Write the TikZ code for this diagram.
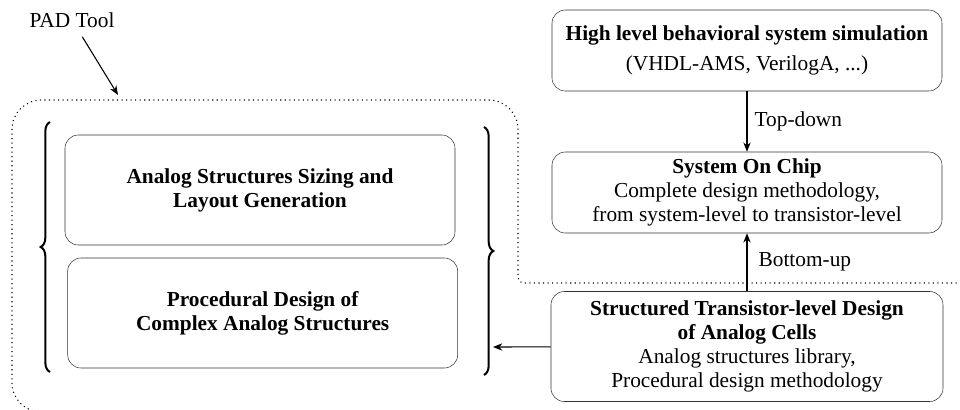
\documentclass[tikz,border=0pt]{standalone}
\usepackage{fontspec}
\setmainfont{Liberation Serif}
\usetikzlibrary{arrows, arrows.meta, decorations.pathreplacing}
\newcommand{\boxfont}{\fontsize{16}{18}\selectfont}
\tikzstyle{leftbox} = [rectangle, rounded corners=10pt, minimum width=292.5pt, minimum height=82.5pt, text centered, align=center, draw=black!80, font=\boxfont\bfseries]
\tikzstyle{flowbox} = [rectangle, rounded corners=10pt, minimum width=292.5pt, minimum height=60.75pt, text centered, align=center, draw=black!80]
\tikzstyle{arrow} = [thick,->,>={Stealth[length=7pt,width=5.5pt]}]
\tikzstyle{padline} = [line width=0.8pt, dash pattern=on 0.8pt off 2.6pt]
\tikzstyle{bigbrace} = [decorate, decoration={brace, amplitude=7pt}, line width=1.5pt]

\begin{document}
\begin{tikzpicture}[x=0.75pt, y=-0.75pt, node distance=106.5pt, every node/.style={font=\boxfont}]
\path [use as bounding box, clip] (0,0) rectangle (960,410);

% PAD tool frame
\draw [padline, rounded corners=22pt] (60,412) -- (12,412) -- (12,100) -- (518,100) [rounded corners=4pt] -- (518,283) -- (970,283);
\node (pad) at (72,20) {PAD Tool};
\coordinate (padtip) at (118,95);
\draw [arrow, shorten <=4pt] (pad) -- (padtip);

% left column
\node (sizing) [leftbox] at (260,190) {Analog Structures Sizing and\\Layout Generation};
\node (procedural) [leftbox, below of=sizing, yshift=14.25pt, xshift=2pt] {Procedural Design of\\Complex Analog Structures};
\draw [bigbrace] (50,372) -- (50,122);
\draw [bigbrace] (484,127) -- (484,375);
\coordinate (rbrace) at (493,347);

% right column
\node (hls) [flowbox] at (747,50.5) {\textbf{High level behavioral system simulation}\\[4pt](VHDL-AMS, VerilogA, ...)};
\node (soc) [flowbox, below of=hls] {\textbf{System On Chip}\\Complete design methodology,\\from system-level to transistor-level};
\node (struct) [flowbox, minimum width=294pt, minimum height=82.5pt, below of=soc, yshift=-9pt] {\textbf{Structured Transistor-level Design}\\\textbf{of Analog Cells}\\Analog structures library,\\Procedural design methodology};

\draw [arrow] (hls) -- node[right, xshift=2pt] {Top-down} (soc);
\draw [arrow] (struct) -- node[right, xshift=5pt] {Bottom-up} (soc);
\draw [arrow] (struct) -- (rbrace);
\end{tikzpicture}
\end{document}
